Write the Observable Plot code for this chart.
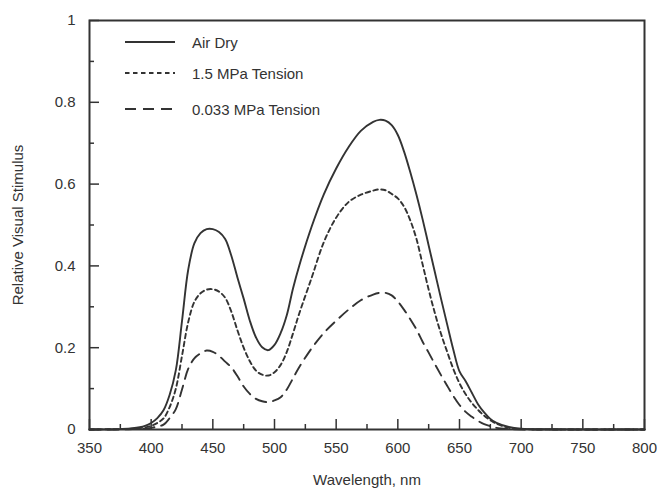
<!DOCTYPE html>
<html>
<head>
<meta charset="utf-8">
<script src="https://cdn.jsdelivr.net/npm/d3@7"></script>
<script src="https://cdn.jsdelivr.net/npm/@observablehq/plot@0.6"></script>
<style>
  body { margin: 0; background: #fff; }
  #wrap { position: relative; width: 657px; height: 489px; font-family: "Liberation Sans", Arial, sans-serif; color: #333; }
  .li { position: absolute; left: 124px; height: 20px; display: flex; align-items: center; font-size: 15px; white-space: nowrap; }
  .li svg { margin-right: 16px; }
</style>
</head>
<body>
<div id="wrap"><div id="chart"></div></div>
<script>
// ---- data ----
const wavelength = [350,375,385,395,400,405,410,415,420,425,430,435,440,445,450,455,460,465,470,475,480,485,490,495,500,505,510,515,520,530,540,550,560,570,580,585,590,595,600,605,610,615,620,625,630,635,640,645,650,655,660,665,670,675,680,690,700,720,750,800];
const airDry = [0,0.001,0.003,0.009,0.016,0.028,0.047,0.085,0.145,0.265,0.39,0.455,0.48,0.49,0.49,0.483,0.466,0.425,0.371,0.32,0.266,0.225,0.201,0.194,0.207,0.236,0.28,0.345,0.40,0.495,0.575,0.638,0.69,0.73,0.752,0.757,0.755,0.744,0.72,0.68,0.63,0.575,0.515,0.45,0.385,0.32,0.257,0.195,0.142,0.118,0.09,0.062,0.042,0.026,0.016,0.006,0.002,0.0005,0,0];
const tension15 = [0,0.001,0.002,0.005,0.009,0.016,0.027,0.055,0.10,0.18,0.262,0.312,0.333,0.342,0.343,0.337,0.322,0.288,0.242,0.2,0.167,0.144,0.134,0.132,0.14,0.158,0.19,0.235,0.283,0.37,0.458,0.518,0.556,0.574,0.584,0.587,0.585,0.576,0.565,0.545,0.512,0.467,0.405,0.342,0.285,0.234,0.19,0.148,0.113,0.086,0.065,0.048,0.034,0.023,0.014,0.004,0.001,0,0,0];
const tension0033 = [0,0,0.001,0.002,0.004,0.007,0.012,0.028,0.05,0.098,0.148,0.174,0.186,0.193,0.19,0.18,0.166,0.152,0.13,0.105,0.087,0.075,0.069,0.067,0.071,0.079,0.098,0.125,0.152,0.198,0.236,0.266,0.293,0.316,0.33,0.334,0.334,0.328,0.313,0.293,0.27,0.245,0.215,0.188,0.16,0.133,0.107,0.082,0.06,0.043,0.031,0.021,0.013,0.008,0.004,0.001,0,0,0,0];
const seriesNames = ["Air Dry", "1.5 MPa Tension", "0.033 MPa Tension"];
const xTicks = [350,400,450,500,550,600,650,700,750,800];
const xMinorTicks = [375,425,475,525,575,625,675,725,775];
const yTicks = [0,0.2,0.4,0.6,0.8,1];
const yTickLabels = ["0","0.2","0.4","0.6","0.8","1"];
const yMinorTicks = [0.1,0.3,0.5,0.7,0.9];
const xLabel = "Wavelength, nm";
const yLabel = "Relative Visual Stimulus";

// ---- build table ----
const seriesValues = [airDry, tension15, tension0033];
const rows = seriesNames.flatMap((s, k) => wavelength.map((w, i) => ({wl: w, v: seriesValues[k][i], s})));

const ink = "#333";
const dashes = [null, "4.5,3.5", "11,7"];
const lineW = 1.9;
const fs = 15;

const plot = Plot.plot({
  width: 657,
  height: 489,
  marginTop: 20,
  marginRight: 13,
  marginBottom: 60,
  marginLeft: 89,
  style: {fontFamily: "'Liberation Sans', Arial, sans-serif", fontSize: "15px", color: ink, background: "#fff"},
  x: {domain: [350, 800]},
  y: {domain: [0, 1]},
  marks: [
    // inward ticks
    Plot.axisX(xTicks, {tickSize: 10, dy: -10, tickFormat: () => "", label: null, strokeWidth: 1.5}),
    Plot.axisX(xMinorTicks, {tickSize: 5, dy: -5, tickFormat: () => "", label: null, strokeWidth: 1.5}),
    Plot.axisY(yTicks, {tickSize: 10, dx: 10, tickFormat: () => "", label: null, strokeWidth: 1.5}),
    Plot.axisY(yMinorTicks, {tickSize: 5, dx: 5, tickFormat: () => "", label: null, strokeWidth: 1.5}),
    // labels
    Plot.axisX(xTicks, {tickSize: 0, tickPadding: 13, tickFormat: d => String(d), fontSize: fs,
      label: xLabel, labelAnchor: "center", labelOffset: 55, labelArrow: "none"}),
    Plot.axisY(yTicks, {tickSize: 0, tickPadding: 14, tickFormat: d => yTickLabels[yTicks.indexOf(d)], fontSize: fs,
      label: yLabel, labelAnchor: "center", labelOffset: 77, labelArrow: "none"}),
    ...seriesNames.map((name, k) => Plot.line(rows, {
      filter: d => d.s === name,
      x: "wl", y: "v",
      stroke: ink, strokeWidth: lineW,
      strokeDasharray: dashes[k],
      curve: "catmull-rom"
    })),
    Plot.frame({stroke: ink, strokeWidth: 2})
  ]
});
document.getElementById("chart").appendChild(plot);

// ---- legend (inside the plot area, top-left) ----
const wrap = document.getElementById("wrap");
const legendCenters = [42, 73, 109];
seriesNames.forEach((name, k) => {
  const row = document.createElement("div");
  row.className = "li";
  row.style.top = (legendCenters[k] - 10) + "px";
  const ns = "http://www.w3.org/2000/svg";
  const svg = document.createElementNS(ns, "svg");
  svg.setAttribute("width", 52);
  svg.setAttribute("height", 6);
  const ln = document.createElementNS(ns, "line");
  ln.setAttribute("x1", 1); ln.setAttribute("x2", 51);
  ln.setAttribute("y1", 3); ln.setAttribute("y2", 3);
  ln.setAttribute("stroke", ink);
  ln.setAttribute("stroke-width", 2);
  if (dashes[k]) ln.setAttribute("stroke-dasharray", dashes[k]);
  svg.appendChild(ln);
  const span = document.createElement("span");
  span.textContent = name;
  row.appendChild(svg);
  row.appendChild(span);
  wrap.appendChild(row);
});
</script>
</body>
</html>
